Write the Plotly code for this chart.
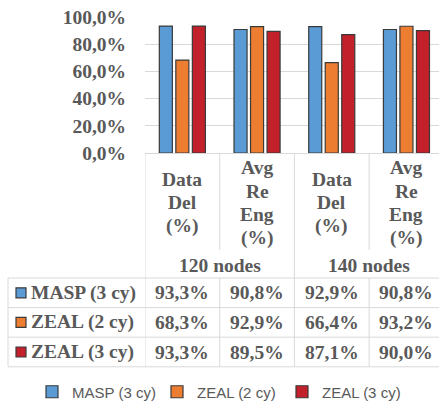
import plotly.graph_objects as go

# ---------------- data ----------------
groups = ["120 nodes", "140 nodes"]
metrics = ["Data Del (%)", "Avg Re Eng (%)"]
categories = [m for g in groups for m in metrics]
series_names = ["MASP (3 cy)", "ZEAL (2 cy)", "ZEAL (3 cy)"]
masp_3cy = [93.3, 90.8, 92.9, 90.8]
zeal_2cy = [68.3, 92.9, 66.4, 93.2]
zeal_3cy = [93.3, 89.5, 87.1, 90.0]
y_ticks = [0, 20, 40, 60, 80, 100]

series_values = [masp_3cy, zeal_2cy, zeal_3cy]
colors = ["#5B9BD5", "#ED7D31", "#C2202A"]

def pct(v):
    return f"{v:.1f}%".replace(".", ",")

# ---------------- layout helpers ----------------
W, H = 439, 403
def px(x):
    return x / W
def py(y):
    return 1 - y / H

TXT = "#595959"
GRID = "#D9D9D9"
EDGE = "#3A3A3A"
SERIF = "Liberation Serif, Times New Roman, serif"
FS = 19.5

plot_left, plot_right = 145, 439
cat_w = 74.7
y_zero, y_top = 153, 17
n_cat = len(categories)
xs = list(range(n_cat))

fig = go.Figure()
for name, vals, col in zip(series_names, series_values, colors):
    fig.add_trace(go.Bar(
        x=xs, y=vals, name=name,
        marker=dict(color=col, line=dict(color=EDGE, width=1.2)),
        hoverinfo="skip",
    ))

shapes = []
annotations = []

def hline(y, x0, x1):
    shapes.append(dict(type="line", xref="paper", yref="paper",
                       x0=px(x0), x1=px(x1), y0=py(y), y1=py(y),
                       line=dict(color=GRID, width=1)))

def vline_data(xd, y0, y1):
    shapes.append(dict(type="line", xref="x", yref="paper",
                       x0=xd, x1=xd, y0=py(y0), y1=py(y1),
                       line=dict(color=GRID, width=1)))

# table geometry (pixels)
tab_top = 278
row_h = 29.6
rows_y = [tab_top + row_h * k for k in range(len(series_names) + 1)]
label_bottom = 250
tab_left = 8

for i in range(n_cat + 1):
    xd = i - 0.5
    if i == 0 or i == n_cat or i % len(metrics) == 0:
        vline_data(xd, y_zero, rows_y[-1])
    else:
        vline_data(xd, y_zero, label_bottom)
        vline_data(xd, tab_top, rows_y[-1])
for ry in rows_y:
    hline(ry, tab_left, W + 5)
shapes.append(dict(type="line", xref="paper", yref="paper",
                   x0=px(tab_left), x1=px(tab_left), y0=py(rows_y[0]), y1=py(rows_y[-1]),
                   line=dict(color=GRID, width=1)))

bold = dict(family=SERIF, size=FS, color=TXT, weight="bold")

line_gap = 23.3
block_mid = 202.7
for i, cat in enumerate(categories):
    parts = cat.split(" ")
    n = len(parts)
    for k, p in enumerate(parts):
        yc = block_mid + (k - (n - 1) / 2) * line_gap
        annotations.append(dict(xref="x", yref="paper", x=i, y=py(yc),
                                text=p, showarrow=False, font=bold,
                                xanchor="center", yanchor="middle"))
for g, gname in enumerate(groups):
    xc = g * len(metrics) + (len(metrics) - 1) / 2
    annotations.append(dict(xref="x", yref="paper", x=xc, y=py(265),
                            text=gname, showarrow=False, font=bold,
                            xanchor="center", yanchor="middle"))

for r, (name, vals, col) in enumerate(zip(series_names, series_values, colors)):
    yc = (rows_y[r] + rows_y[r + 1]) / 2
    shapes.append(dict(type="rect", xref="paper", yref="paper",
                       x0=px(16), x1=px(26), y0=py(yc + 5), y1=py(yc - 5),
                       fillcolor=col, line=dict(color=EDGE, width=1.2)))
    annotations.append(dict(xref="paper", yref="paper", x=px(29), y=py(yc),
                            text=name, showarrow=False, font=bold,
                            xanchor="left", yanchor="middle"))
    for i, v in enumerate(vals):
        annotations.append(dict(xref="x", yref="paper", x=i, y=py(yc),
                                text=pct(v), showarrow=False, font=bold,
                                xanchor="center", yanchor="middle"))

fig.update_layout(
    width=W, height=H, autosize=False,
    margin=dict(l=0, r=0, t=0, b=0, autoexpand=False),
    paper_bgcolor="white", plot_bgcolor="white",
    separators=",.",
    barmode="group", bargap=0.337, bargroupgap=0.21,
    font=dict(family=SERIF, color=TXT),
    xaxis=dict(domain=[px(plot_left), 1],
               range=[-0.5, -0.5 + (plot_right - plot_left) / cat_w],
               showticklabels=False, showgrid=False, zeroline=False,
               showline=True, linecolor=GRID, linewidth=1, fixedrange=True,
               automargin=False),
    yaxis=dict(domain=[py(y_zero), py(y_top)], range=[0, 100],
               tickmode="array", tickvals=y_ticks,
               ticktext=[pct(t) for t in y_ticks],
               showgrid=True, gridcolor=GRID, gridwidth=1,
               zeroline=False, showline=False, automargin=False,
               ticklabelstandoff=18, tickfont=bold, fixedrange=True),
    showlegend=True,
    legend=dict(orientation="h", x=0.5, xanchor="center",
                y=py(392), yanchor="middle",
                entrywidthmode="pixels", entrywidth=80,
                font=dict(family="Liberation Sans, Arial, sans-serif", size=15,
                          color=TXT, weight="normal"),
                itemclick=False, itemdoubleclick=False),
    shapes=shapes, annotations=annotations,
)

fig.write_html(
    "out.html",
    config={"displayModeBar": False},
    post_script="document.body.style.margin='0';document.body.style.overflow='hidden';",
)
